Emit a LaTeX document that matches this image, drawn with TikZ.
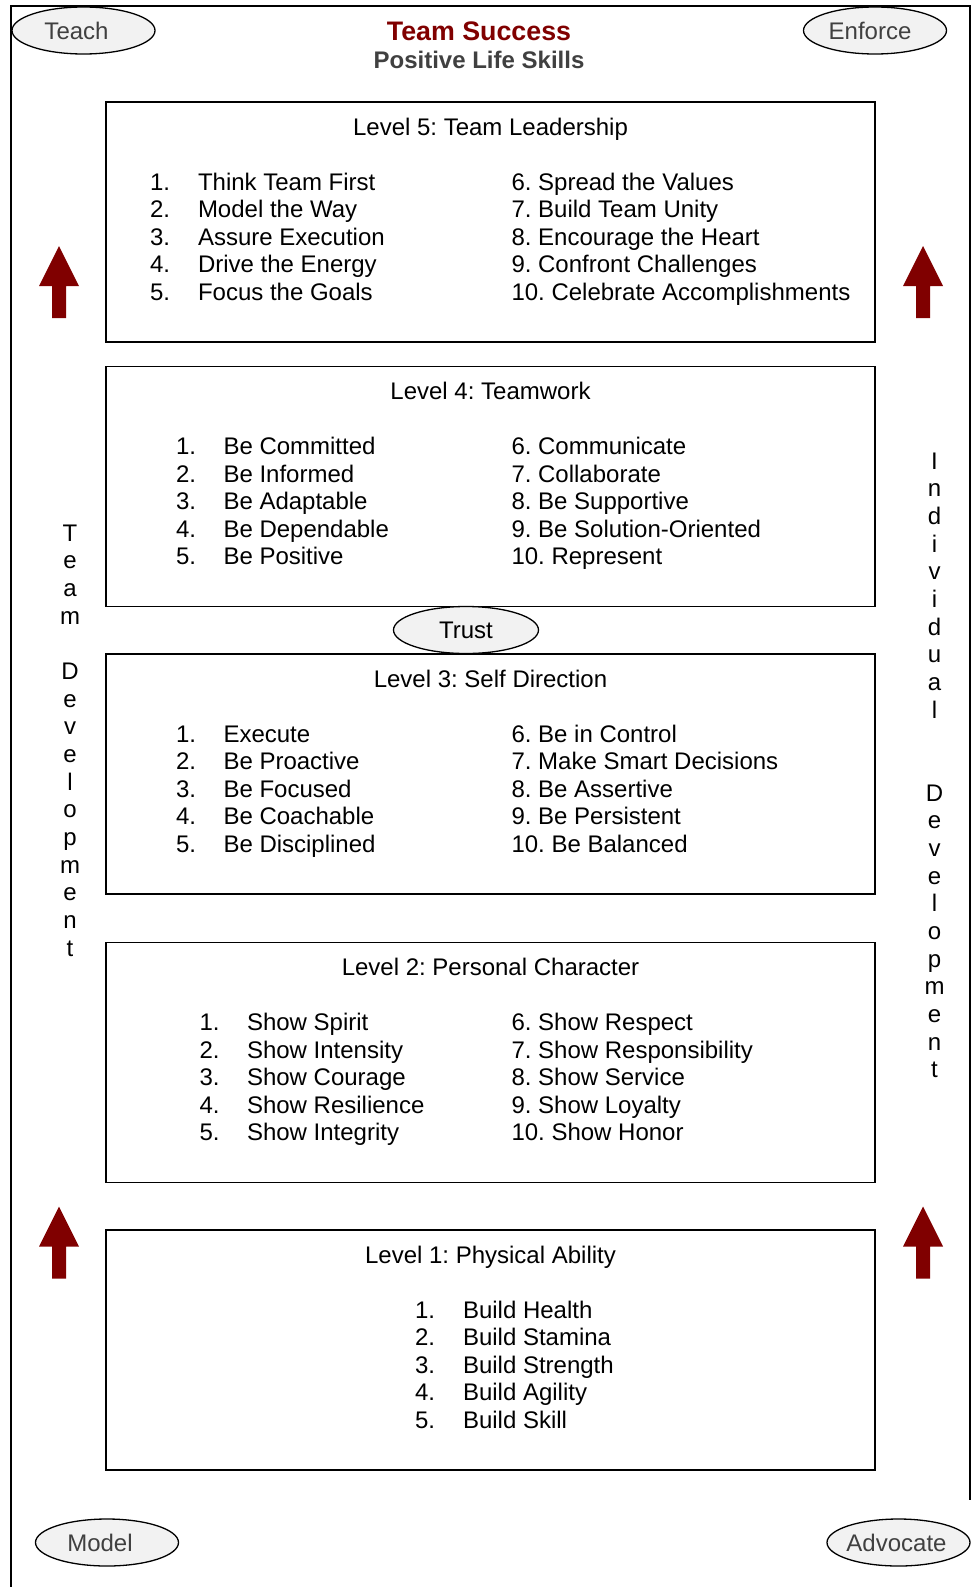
\documentclass[tikz,border=0pt]{standalone}
\usepackage{fontspec}
\setmainfont{Liberation Sans}
\usetikzlibrary{shapes.geometric}
\definecolor{darkred}{HTML}{800000}
\definecolor{txtgray}{HTML}{404040}
\definecolor{ellfill}{HTML}{F2F2F2}
\frenchspacing
\begin{document}
\begin{tikzpicture}[x=1pt,y=-1pt,
  every node/.style={inner sep=0pt, outer sep=0pt},
  txt/.style={font=\fontsize{24}{28}\selectfont, anchor=base west},
  head/.style={font=\fontsize{24}{28}\selectfont, anchor=base},
  levelbox/.style={draw, line width=1.6pt, minimum width=769pt, minimum height=240pt, anchor=north west},
  oval/.style={ellipse, draw, line width=1.3pt, fill=ellfill, minimum width=143pt, minimum height=47pt},
  ovaltext/.style={font=\fontsize{24}{28}\selectfont, text=txtgray},
  vletter/.style={font=\fontsize{24}{28}\selectfont, anchor=base},
  uparrow/.style={fill=darkred}
]
\useasboundingbox (0,0) rectangle (978,1587);
% frame
\draw[line width=1.6pt] (11,1587) -- (11,6) -- (970,6) -- (970,1500);
% title
\node[anchor=base, font=\bfseries\fontsize{26.8}{30}\selectfont, text=darkred] (title) at (479,41) {Team Success};
\node[anchor=base, font=\bfseries\fontsize{24}{28}\selectfont, text=txtgray] (subtitle) at (479,68.3) {Positive Life Skills};
% corner ovals
\node[oval] (teach) at (83.5,30.5) {};
\node[ovaltext] (teachtxt) at ([xshift=-7pt]teach.center) {Teach};
\node[oval] (enforce) at (875,30.5) {};
\node[ovaltext] (enforcetxt) at ([xshift=-5pt]enforce.center) {Enforce};
\node[oval] (model) at (107,1542.5) {};
\node[ovaltext] (modeltxt) at ([xshift=-7pt]model.center) {Model};
\node[oval] (advocate) at (898.5,1542.5) {};
\node[ovaltext] (advocatetxt) at ([xshift=-2pt]advocate.center) {Advocate};
% level boxes
\node[levelbox] (L5) at (106,102) {};
\node[levelbox] (L4) at (106,366.5) {};
\node[levelbox] (L3) at (106,654) {};
\node[levelbox] (L2) at (106,942.5) {};
\node[levelbox] (L1) at (106,1230) {};
% trust
\node[oval, minimum width=145pt, font=\fontsize{24}{28}\selectfont] (trust) at (466,630) {Trust};
% headings
\node[head] (h5) at (490.5,135) {Level 5: Team Leadership};
\node[head] (h4) at (490.5,399.5) {Level 4: Teamwork};
\node[head] (h3) at (490.5,687) {Level 3: Self Direction};
\node[head] (h2) at (490.5,975.5) {Level 2: Personal Character};
\node[head] (h1) at (490.5,1263) {Level 1: Physical Ability};
% Level 5
\foreach \t [count=\i] in {Think Team First, Model the Way, Assure Execution, Drive the Energy, Focus the Goals} {
  \node[txt] (l5n\i) at (150,{102+88+(\i-1)*27.6}) {\i.};
  \node[txt] (l5t\i) at (198,{102+88+(\i-1)*27.6}) {\t};
}
\foreach \t [count=\i] in {Spread the Values, Build Team Unity, Encourage the Heart, Confront Challenges, Celebrate Accomplishments} {
  \pgfmathtruncatemacro\n{\i+5}
  \node[txt] (l5r\i) at (511.5,{102+88+(\i-1)*27.6}) {\n. \t};
}
% Level 4
\foreach \t [count=\i] in {Be Committed, Be Informed, Be Adaptable, Be Dependable, Be Positive} {
  \node[txt] (l4n\i) at (176,{366.5+88+(\i-1)*27.6}) {\i.};
  \node[txt] (l4t\i) at (223.5,{366.5+88+(\i-1)*27.6}) {\t};
}
\foreach \t [count=\i] in {Communicate, Collaborate, Be Supportive, Be Solution-Oriented, Represent} {
  \pgfmathtruncatemacro\n{\i+5}
  \node[txt] (l4r\i) at (511.5,{366.5+88+(\i-1)*27.6}) {\n. \t};
}
% Level 3
\foreach \t [count=\i] in {Execute, Be Proactive, Be Focused, Be Coachable, Be Disciplined} {
  \node[txt] (l3n\i) at (176,{654+88+(\i-1)*27.6}) {\i.};
  \node[txt] (l3t\i) at (223.5,{654+88+(\i-1)*27.6}) {\t};
}
\foreach \t [count=\i] in {Be in Control, Make Smart Decisions, Be Assertive, Be Persistent, Be Balanced} {
  \pgfmathtruncatemacro\n{\i+5}
  \node[txt] (l3r\i) at (511.5,{654+88+(\i-1)*27.6}) {\n. \t};
}
% Level 2
\foreach \t [count=\i] in {Show Spirit, Show Intensity, Show Courage, Show Resilience, Show Integrity} {
  \node[txt] (l2n\i) at (199.5,{942.5+88+(\i-1)*27.6}) {\i.};
  \node[txt] (l2t\i) at (247,{942.5+88+(\i-1)*27.6}) {\t};
}
\foreach \t [count=\i] in {Show Respect, Show Responsibility, Show Service, Show Loyalty, Show Honor} {
  \pgfmathtruncatemacro\n{\i+5}
  \node[txt] (l2r\i) at (511.5,{942.5+88+(\i-1)*27.6}) {\n. \t};
}
% Level 1
\foreach \t [count=\i] in {Build Health, Build Stamina, Build Strength, Build Agility, Build Skill} {
  \node[txt] (l1n\i) at (415,{1230+88+(\i-1)*27.6}) {\i.};
  \node[txt] (l1t\i) at (463,{1230+88+(\i-1)*27.6}) {\t};
}
% arrows
\foreach \ax/\ay in {59/246, 923/246, 59/1206.5, 923/1206.5} {
  \fill[uparrow] (\ax,\ay) -- ++(20,40) -- ++(-13,0) -- ++(0,32) -- ++(-14,0) -- ++(0,-32) -- ++(-13,0) -- cycle;
}
% vertical texts
\foreach \l [count=\i] in {T,e,a,m} {
  \node[vletter] (tda\i) at (70,{533.5+7.5+(\i-1)*27.67}) {\l};
}
\foreach \l [count=\i] in {D,e,v,e,l,o,p,m,e,n,t} {
  \node[vletter] (tdb\i) at (70,{533.5+7.5+(\i+4)*27.67}) {\l};
}
\foreach \l [count=\i] in {I,n,d,i,v,i,d,u,a,l} {
  \node[vletter] (ida\i) at (934.5,{461.6+7.5+(\i-1)*27.67}) {\l};
}
\foreach \l [count=\i] in {D,e,v,e,l,o,p,m,e,n,t} {
  \node[vletter] (idb\i) at (934.5,{461.6+7.5+(\i+11)*27.67}) {\l};
}
\end{tikzpicture}
\end{document}
